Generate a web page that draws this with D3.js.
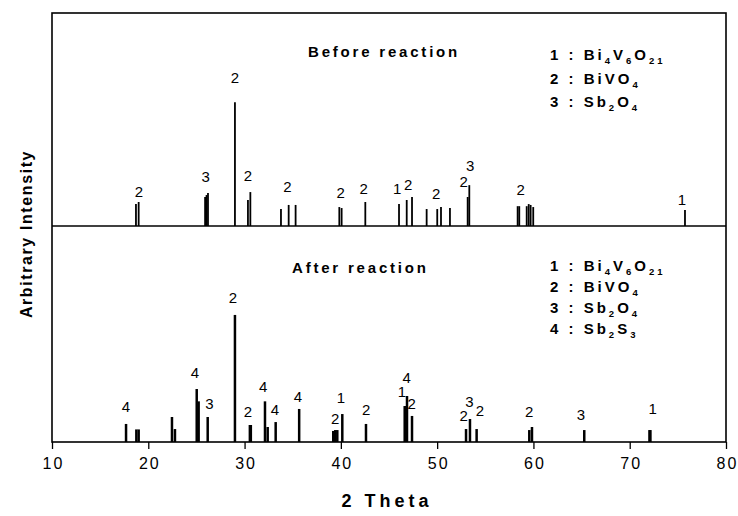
<!DOCTYPE html>
<html>
<head>
<meta charset="utf-8">
<script src="https://cdn.jsdelivr.net/npm/d3@7"></script>
<style>
  body { margin: 0; background: #fff; }
  svg { font-family: Arial, "Liberation Sans", sans-serif; }
</style>
</head>
<body>
<svg id="chart" width="738" height="516"></svg>
<script>
// 2-theta positions and relative intensities (main BiVO4 peak = 100)
const beforeTheta = [18.72, 19.0, 25.9, 26.05, 26.2, 29.0, 30.35, 30.6, 33.78, 34.58, 35.3,
    39.84, 40.08, 42.54, 46.04, 46.84, 47.39, 48.91, 50.01, 50.4, 51.33, 53.17, 53.34,
    58.36, 58.53, 59.3, 59.51, 59.71, 59.98, 75.74];
const beforeIntensity = [17.7, 19.4, 23.4, 25, 26.6, 100, 21, 27.4, 13.7, 17, 17,
    15.3, 14.5, 19.4, 17.7, 21, 23.4, 13.7, 13.7, 15.3, 14.5, 23.4, 33,
    16, 16, 16, 17.7, 17, 15.3, 12.9];

const afterTheta = [17.69, 18.76, 19.0, 22.46, 22.77, 25.03, 25.23, 26.17, 29.0, 30.55, 30.65,
    32.12, 32.4, 33.23, 35.67, 39.21, 39.42, 39.63, 40.15, 42.61, 46.63, 46.76, 46.87, 47.39,
    53.0, 53.41, 54.1, 59.57, 59.85, 65.28, 72.05, 72.15];
const afterIntensity = [14.2, 9.9, 9.9, 19.7, 10.2, 41.7, 32, 19.7, 100, 13.4, 13.4,
    32, 11.8, 15.7, 26, 8.7, 9.4, 9.4, 22, 14.2, 28.3, 28.3, 36.2, 20.5,
    10.2, 18.1, 10.2, 9.4, 11.8, 9.4, 9.4, 9.4];

// peak phase labels: text, 2-theta, height of label
const beforeLabelText = ['2', '3', '2', '2', '2', '2', '2', '1', '2', '2', '2', '3', '2', '1'];
const beforeLabelTheta = [19.03, 25.96, 29.0, 30.35, 34.44, 39.98, 42.37, 45.86, 47.0, 49.91, 52.76, 53.44, 58.68, 75.43];
const beforeLabelLevel = [27.4, 39.8, 119.5, 40.3, 31.7, 26.9, 29.8, 29.8, 33.6, 26.4, 36, 48.5, 29.6, 21];

const afterLabelText = ['4', '4', '3', '2', '2', '4', '4', '4', '2', '1', '2', '1', '4', '2', '2', '3', '2', '2', '3', '1'];
const afterLabelTheta = [17.69, 24.85, 26.34, 28.8, 30.35, 31.94, 33.16, 35.55, 39.42, 40.01, 42.64, 46.35, 46.84, 47.36,
    52.75, 53.35, 54.45, 59.57, 64.94, 72.38];
const afterLabelLevel = [28.1, 54.3, 30.5, 113.9, 24.2, 43.9, 25.2, 35.4, 18.7, 34.9, 25.7, 39.6, 50.5, 30.5,
    21, 32, 24.6, 23.9, 21.3, 26];

const beforePhases = ['1 : Bi4V6O21', '2 : BiVO4', '3 : Sb2O4'];
const afterPhases = ['1 : Bi4V6O21', '2 : BiVO4', '3 : Sb2O4', '4 : Sb2S3'];

const xTicks = [10, 20, 30, 40, 50, 60, 70, 80];

const plotLeft = 52, plotRight = 726, plotTop = 13, plotMid = 226, plotBottom = 442;

const svg = d3.select('#chart');

const x = d3.scaleLinear().domain([10, 80]).range([plotLeft, plotRight]);
const yTop = d3.scaleLinear().domain([0, 172]).range([plotMid, plotTop]);
const yBot = d3.scaleLinear().domain([0, 170]).range([plotBottom, plotMid]);

// draw one panel of sticks + labels
function drawPanel(thetas, values, y, width, lText, lTheta, lLevel) {
    const g = svg.append('g');
    g.selectAll('line.stick')
        .data(thetas)
        .join('line')
        .attr('class', 'stick')
        .attr('x1', d => x(d))
        .attr('x2', d => x(d))
        .attr('y1', y(0))
        .attr('y2', (d, i) => y(values[i]))
        .attr('stroke', '#000')
        .attr('stroke-width', width);

    g.selectAll('text.peak')
        .data(lText)
        .join('text')
        .attr('class', 'peak')
        .attr('x', (d, i) => x(lTheta[i]))
        .attr('y', (d, i) => y(lLevel[i]))
        .attr('dy', '0.36em')
        .attr('text-anchor', 'middle')
        .style('font-size', '15px')
        .text(d => d);
}

drawPanel(beforeTheta, beforeIntensity, yTop, 1.8, beforeLabelText, beforeLabelTheta, beforeLabelLevel);
drawPanel(afterTheta, afterIntensity, yBot, 2.5, afterLabelText, afterLabelTheta, afterLabelLevel);

// frame and divider
svg.append('rect')
    .attr('x', plotLeft).attr('y', plotTop)
    .attr('width', plotRight - plotLeft).attr('height', plotBottom - plotTop)
    .attr('fill', 'none').attr('stroke', '#000').attr('stroke-width', 1.6);
svg.append('line')
    .attr('x1', plotLeft).attr('x2', plotRight)
    .attr('y1', plotMid).attr('y2', plotMid)
    .attr('stroke', '#000').attr('stroke-width', 1.6);

// x axis, ticks pointing out
const xAxis = d3.axisBottom(x).tickValues(xTicks).tickSize(7).tickSizeOuter(0);
const xAxisG = svg.append('g')
    .attr('transform', `translate(0,${plotBottom})`)
    .call(xAxis);
xAxisG.select('.domain').remove();
xAxisG.selectAll('.tick line').attr('stroke-width', 1.3);
xAxisG.selectAll('.tick text')
    .attr('y', 16)
    .attr('dx', '1px')
    .style('font-family', 'Arial, "Liberation Sans", sans-serif')
    .style('font-size', '16px')
    .style('letter-spacing', '2px')
    .attr('fill', '#000');

// axis titles
svg.append('text')
    .attr('x', 387)
    .attr('y', 507)
    .attr('text-anchor', 'middle')
    .style('font-size', '18px')
    .style('font-weight', 'bold')
    .style('letter-spacing', '4px')
    .text('2 Theta');

svg.append('text')
    .attr('transform', 'rotate(-90)')
    .attr('x', -234)
    .attr('y', 32)
    .attr('text-anchor', 'middle')
    .style('font-size', '16px')
    .style('font-weight', 'bold')
    .style('letter-spacing', '1.6px')
    .text('Arbitrary Intensity');

// panel titles
svg.append('text')
    .attr('x', 308).attr('y', 57)
    .style('font-size', '15px').style('font-weight', 'bold')
    .style('letter-spacing', '2.8px')
    .text('Before reaction');
svg.append('text')
    .attr('x', 292).attr('y', 273)
    .style('font-size', '15px').style('font-weight', 'bold')
    .style('letter-spacing', '2.8px')
    .text('After reaction');

// legend with subscripts: digits after a letter are subscripted
function drawLegend(items, x0, y0, step) {
    items.forEach((s, i) => {
        const t = svg.append('text')
            .attr('x', x0).attr('y', y0 + i * step)
            .style('font-size', '15px').style('font-weight', 'bold')
            .style('letter-spacing', '3px');
        t.append('tspan').text(s.slice(0, 4));
        const parts = s.slice(4).match(/[A-Za-z]+|\d+/g);
        let sub = false;
        parts.forEach(p => {
            if (/\d/.test(p)) {
                t.append('tspan').attr('dy', 4).style('font-size', '9.5px').text(p);
                sub = true;
            } else {
                t.append('tspan').attr('dy', sub ? -4 : 0).text(p);
                sub = false;
            }
        });
    });
}

drawLegend(beforePhases, 550, 60, 23.5);
drawLegend(afterPhases, 550, 271, 21);
</script>
</body>
</html>
